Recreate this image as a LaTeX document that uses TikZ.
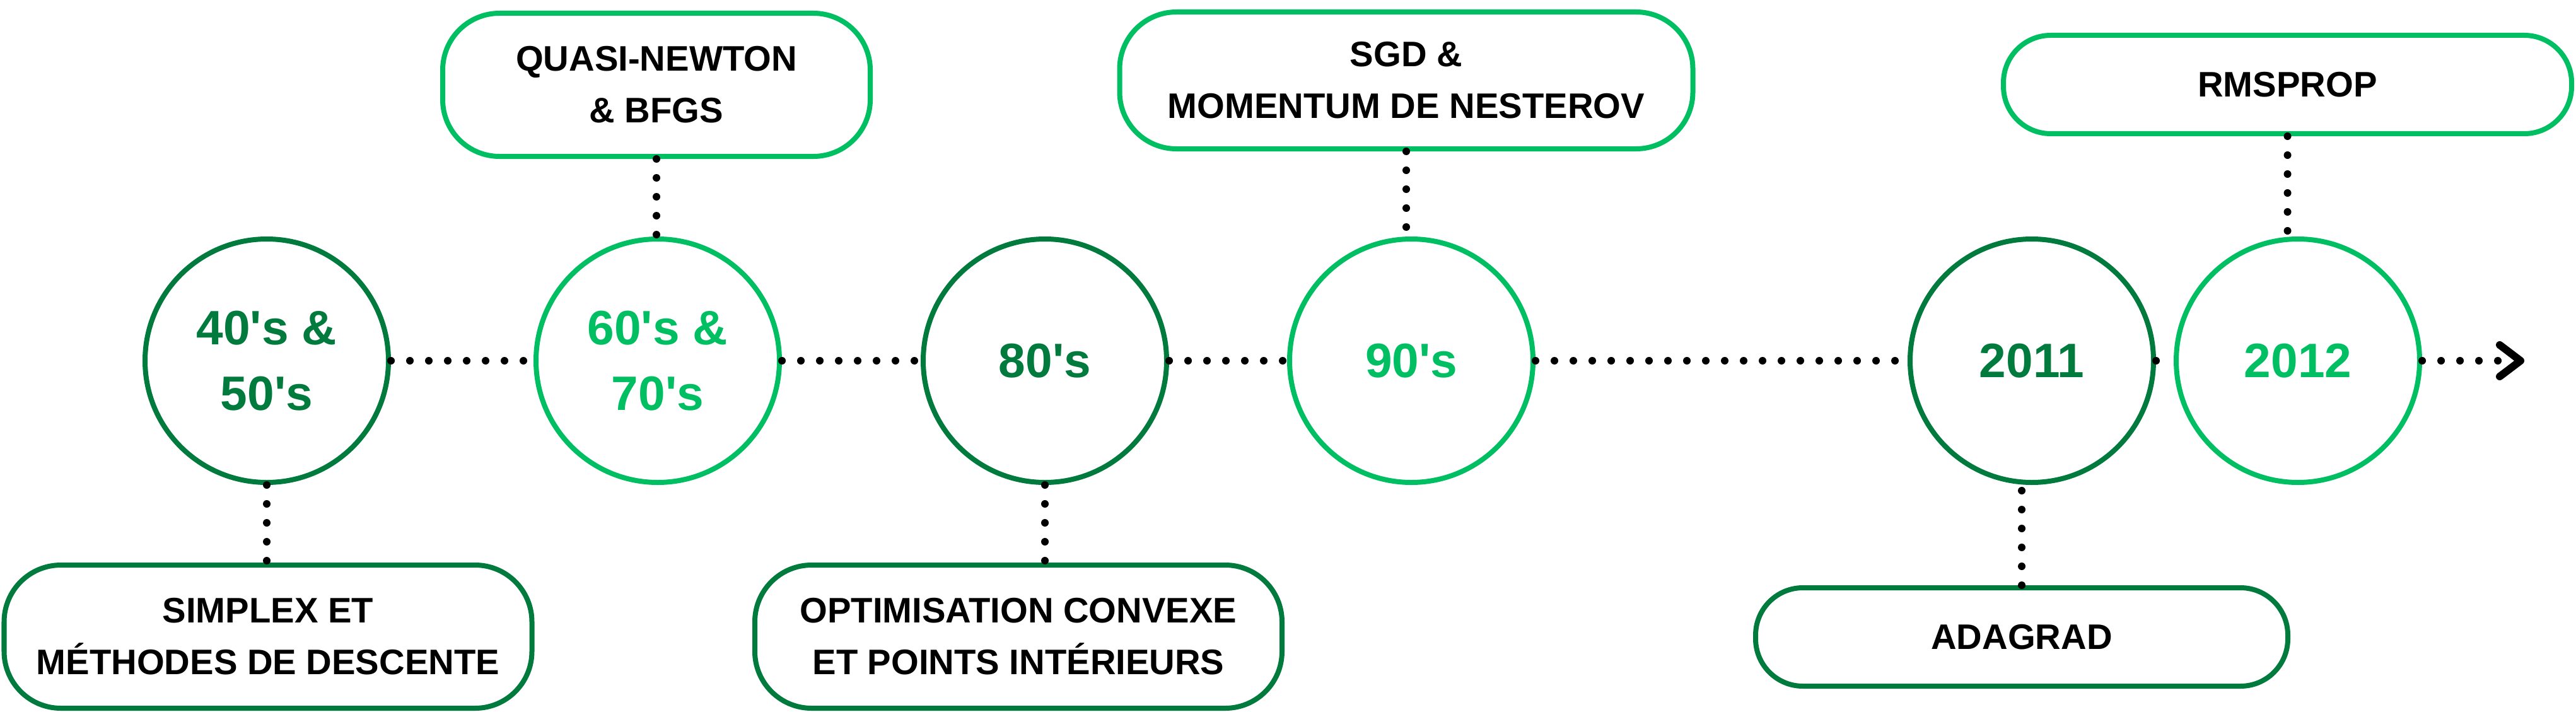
\documentclass[tikz,border=0pt]{standalone}
\usepackage{fontspec}
\setmainfont{Liberation Sans}
\usetikzlibrary{positioning, arrows.meta}
\definecolor{darkgreen}{RGB}{0,122,61}
\definecolor{lightgreen}{RGB}{0,191,99}
\tikzset{
    bigcircle/.style={draw, circle, line width=0.08cm, minimum size=3.86cm, inner sep=0pt, align=center, font=\bfseries\fontsize{21.8}{29.8}\selectfont},
    bigbox/.style={draw, rounded corners=0.9cm, line width=0.08cm, minimum height=2.27cm, align=center, font=\bfseries\fontsize{16.0}{23.3}\selectfont},
    smallbox/.style={bigbox, rounded corners=0.75cm, minimum height=1.56cm},
    dark/.style={draw=darkgreen, text=darkgreen},
    light/.style={draw=lightgreen, text=lightgreen},
    dots/.style={line width=0.12cm, line cap=round, dash pattern=on 0pt off 0.30cm}
}

\begin{document}
\begin{tikzpicture}[node distance=1.23cm, >={Straight Barb[length=0.33cm, width=0.50cm, line width=0.12cm, round]}]
	\useasboundingbox (0,0) rectangle (40.85,-11.29);
	% timeline
	\node(Forties)[bigcircle, dark] at (4.23,-5.72) {40\textquotesingle s \&\\50\textquotesingle s};
	\node(Sixties)[bigcircle, light, right=2.26cm of Forties]{60\textquotesingle s \&\\70\textquotesingle s};
	\node(Eighties)[bigcircle, dark, right=2.20cm of Sixties]{80\textquotesingle s};
	\node(Nineties)[bigcircle, light, right=1.87cm of Eighties]{90\textquotesingle s};
	\node(Y2011)[bigcircle, dark, right=5.90cm of Nineties]{2011};
	\node(Y2012)[bigcircle, light, right=0.28cm of Y2011]{2012};
	\coordinate(End) at (40.03,-5.72);
	% methods
	\node(Simplex)[bigbox, draw=darkgreen, minimum width=8.37cm, below=of Forties, xshift=0.02cm]{SIMPLEX ET\\MÉTHODES DE DESCENTE};
	\node(Quasi)[bigbox, draw=lightgreen, minimum width=6.78cm, above=of Sixties, xshift=-0.02cm]{QUASI-NEWTON\\\& BFGS};
	\node(Convex)[bigbox, draw=darkgreen, minimum width=8.36cm, below=of Eighties, xshift=-0.42cm]{OPTIMISATION CONVEXE\\ET POINTS INTÉRIEURS};
	\node(SGD)[bigbox, draw=lightgreen, minimum width=9.09cm, minimum height=2.17cm, above=of Nineties, xshift=-0.08cm, yshift=0.12cm]{SGD \&\\MOMENTUM DE NESTEROV};
	\node(Adagrad)[smallbox, draw=darkgreen, minimum width=8.44cm, below=of Y2011, xshift=-0.16cm, yshift=-0.36cm]{ADAGRAD};
	\node(RMSprop)[smallbox, draw=lightgreen, minimum width=9.01cm, above=of Y2012, xshift=-0.165cm, yshift=0.36cm]{RMSPROP};
	\draw[dots](Forties)--(Sixties);
	\draw[dots](Sixties)--(Eighties);
	\draw[dots](Eighties)--(Nineties);
	\draw[dots](Nineties)--(Y2011);
	\draw[dots](Y2011)--(Y2012);
	\draw[dots, ->](Y2012)--(End);
	\draw[dots](Forties.south)--(Forties.south |- Simplex.north);
	\draw[dots](Quasi.south)--(Quasi.south |- Sixties.north);
	\draw[dots](Eighties.south)--(Eighties.south |- Convex.north);
	\draw[dots](SGD.south)--(SGD.south |- Nineties.north);
	\draw[dots](Adagrad.north)--(Adagrad.north |- Y2011.south);
	\draw[dots](RMSprop.south)--(RMSprop.south |- Y2012.north);
\end{tikzpicture}
\end{document}
